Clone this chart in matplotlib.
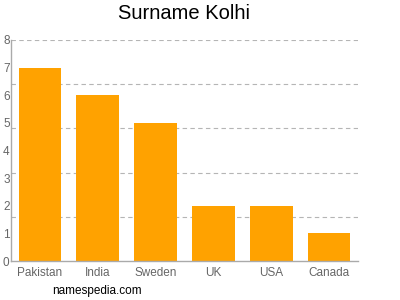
import matplotlib.pyplot as plt
import numpy as np

countries = ['Pakistan', 'India', 'Sweden', 'UK', 'USA', 'Canada']
counts = [7, 6, 5, 2, 2, 1]
y_ticks = [0, 1, 2, 3, 4, 5, 6, 7, 8]
grid_levels = [1.6, 3.2, 4.8, 6.4, 8.0]

plt.rcParams['font.family'] = ['Liberation Sans', 'DejaVu Sans']

fig = plt.figure(figsize=(4, 3), dpi=100)
ax = fig.add_axes([11 / 400, 39 / 300, 347 / 400, 221 / 300])

x = np.arange(len(countries))
ax.bar(x, counts, width=0.74, color='#ffa200', zorder=2)

for g in grid_levels:
    ax.axhline(g, color='#b5b5b5', linestyle=(0, (4, 3)), linewidth=0.8, zorder=1)

ax.set_xlim(-0.5, len(countries) - 0.5)
ax.set_ylim(0, 8)
ax.set_xticks(x)
ax.set_xticklabels(countries)
ax.set_yticks(y_ticks)
ax.tick_params(axis='both', labelsize=8.5, length=0)
ax.tick_params(axis='x', pad=4)
ax.tick_params(axis='y', pad=1)
for lbl in ax.get_xticklabels() + ax.get_yticklabels():
    lbl.set_color('#666666')

for s in ['top', 'right']:
    ax.spines[s].set_visible(False)
for s in ['left', 'bottom']:
    ax.spines[s].set_color('#aaaaaa')
    ax.spines[s].set_linewidth(1)

fig.text(184 / 400, 0.955, 'Surname Kolhi', ha='center', va='center', fontsize=14.5)
fig.text(0.13, 0.03, 'namespedia.com', ha='left', va='center', fontsize=8.5)

fig.savefig('out.png', dpi=100)
